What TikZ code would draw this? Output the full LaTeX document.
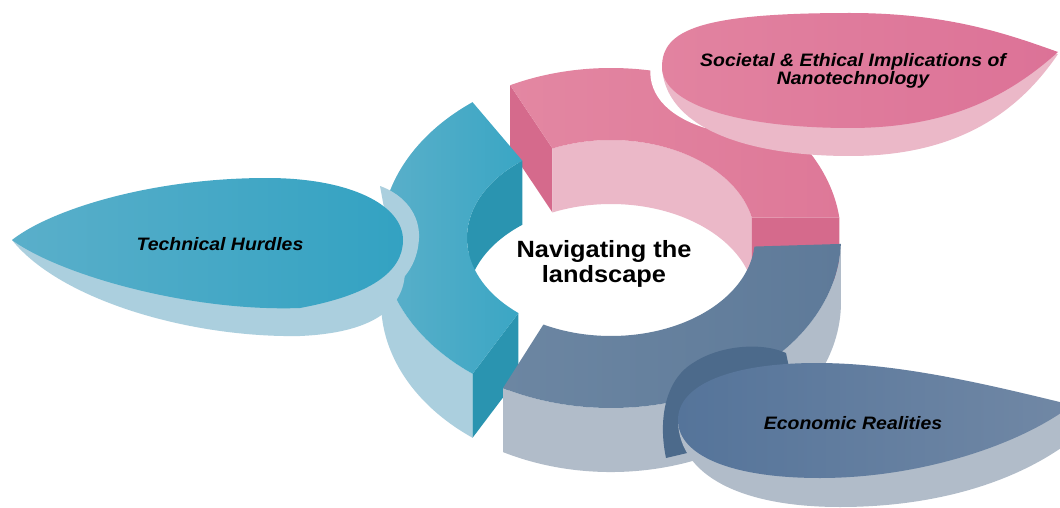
\documentclass[tikz,border=0pt]{standalone}
\usepackage{fontspec}
\setmainfont{Liberation Sans}
\newfontfamily\labfont[FakeStretch=1.08]{Liberation Sans}
\definecolor{pinktop}{HTML}{DE7898}
\definecolor{pinktopL}{HTML}{E387A2}
\definecolor{pinkdark}{HTML}{D56A8C}
\definecolor{pinklight}{HTML}{EBB8C8}
\definecolor{tealL}{HTML}{5CB0CA}
\definecolor{tealR}{HTML}{3AA6C4}
\definecolor{tealdark}{HTML}{2A94B0}
\definecolor{teallight}{HTML}{ABCFDE}
\definecolor{slateL}{HTML}{6C86A2}
\definecolor{slateR}{HTML}{5E7A99}
\definecolor{slatedark}{HTML}{4C6A8B}
\definecolor{slatelight}{HTML}{B1BCC9}
\definecolor{leafpinkL}{HTML}{E283A0}
\definecolor{leafpinkR}{HTML}{DC7297}
\definecolor{leaftealL}{HTML}{5AAFCA}
\definecolor{leaftealR}{HTML}{33A2C2}
\definecolor{leafslateL}{HTML}{55749A}
\definecolor{leafslateR}{HTML}{7188A5}
\tikzset{
  outerarc/.style={x radius=230,y radius=170},
  innerarc/.style={x radius=144,y radius=98},
  centertext/.style={align=center,font=\labfont\fontsize{23.5}{25}\selectfont\bfseries,text=black},
  leaftext/.style={align=center,font=\labfont\fontsize{18}{18.5}\selectfont\bfseries\itshape,text=black}
}
\begin{document}
\begin{tikzpicture}[x=1pt,y=-1pt]
\useasboundingbox (0,0) rectangle (1060,508);
\clip (0,0) rectangle (1060,508);
\fill[white] (0,0) rectangle (1060,508);

\begin{scope}[shift={(611,238)}]
% ---- pink segment ----
\fill[pinkdark] (244:230 and 170) -- (246:144 and 98) -- ++(0,64) -- ([shift={(0,64)}]244:230 and 170) -- cycle;
\fill[pinklight] (246:144 and 98) arc[start angle=246,end angle=348,innerarc] -- ++(0,64) arc[start angle=348,end angle=246,innerarc] -- cycle;
\fill[pinkdark] (353:230 and 170) -- (348:144 and 98) -- ++(0,64) -- ([shift={(0,64)}]353:230 and 170) -- cycle;
\shade[left color=pinktopL,right color=pinktop] (244:230 and 170) arc[start angle=244,end angle=353,outerarc] -- (348:144 and 98) arc[start angle=348,end angle=246,innerarc] -- cycle;
% ---- teal segment ----
\fill[teallight] (127:230 and 170) arc[start angle=127,end angle=233,outerarc] -- ++(0,64) arc[start angle=233,end angle=127,outerarc] -- cycle;
\fill[tealdark] (232:144 and 98) arc[start angle=232,end angle=172,innerarc] -- ++(0,64) arc[start angle=172,end angle=232,innerarc] -- cycle;
\fill[tealdark] (127:230 and 170) -- (130:144 and 98) -- ++(0,64) -- ([shift={(0,64)}]127:230 and 170) -- cycle;
\shade[left color=tealL,right color=tealR] (127:230 and 170) arc[start angle=127,end angle=233,outerarc] -- (232:144 and 98) arc[start angle=232,end angle=130,innerarc] -- cycle;
% ---- slate segment ----
\fill[slatelight] (2:230 and 170) arc[start angle=2,end angle=118,outerarc] -- ++(0,64) arc[start angle=118,end angle=2,outerarc] -- cycle;
\shade[left color=slateL,right color=slateR] (2:230 and 170) arc[start angle=2,end angle=118,outerarc] -- (118:144 and 98) arc[start angle=118,end angle=5,innerarc] -- cycle;
\end{scope}

% notch of the slate segment
\fill[slatedark] (666,458) .. controls (658,420) and (665,380) .. (693,363) .. controls (720,345) and (762,342) .. (786,353) -- (800,420) -- (700,450) -- cycle;
% white rim of the pink leaf
\fill[white] (651,62) .. controls (646,92) and (665,115) .. (705,128) -- (720,100) -- (690,60) -- cycle;
% light rim of the teal leaf
\fill[teallight] (380,186) .. controls (405,195) and (420,215) .. (419,238) .. controls (418,260) and (408,275) .. (396,285) -- (390,240) -- cycle;

% ---- teal leaf ----
\fill[teallight] (12,240) .. controls (60,300) and (190,338) .. (300,336) .. controls (370,333) and (405,310) .. (405,270) -- (390,240) -- cycle;
\shade[left color=leaftealL,right color=leaftealR] (12,240) .. controls (50,210) and (150,178) .. (267,178) .. controls (350,178) and (403,205) .. (403,240) .. controls (403,272) and (370,295) .. (300,308) .. controls (190,312) and (60,275) .. (12,240) -- cycle;

% ---- pink leaf ----
\fill[pinklight] (662,67) .. controls (665,125) and (740,156) .. (850,156) .. controls (960,156) and (1020,110) .. (1058,54) -- cycle;
\shade[left color=leafpinkL,right color=leafpinkR] (662,67) .. controls (662,30) and (700,13) .. (850,13) .. controls (950,13) and (1010,35) .. (1058,52) .. controls (1010,95) and (950,128) .. (850,128) .. controls (740,128) and (662,105) .. (662,67) -- cycle;

% ---- slate leaf ----
\fill[slatelight] (678,422) .. controls (680,475) and (740,507) .. (840,507) .. controls (940,507) and (1020,480) .. (1072,440) -- (1072,405) -- cycle;
\shade[left color=leafslateL,right color=leafslateR] (678,420) .. controls (678,385) and (730,363) .. (817,363) .. controls (900,363) and (990,385) .. (1072,405) .. controls (1020,445) and (920,478) .. (820,478) .. controls (730,478) and (678,455) .. (678,420) -- cycle;

% ---- texts ----
\node[centertext] (hub) at (604,264) {Navigating the\\landscape};
\node[leaftext] (tech) at (220,244) {Technical Hurdles};
\node[leaftext] (soc) at (853,71) {Societal \& Ethical Implications of\\Nanotechnology};
\node[leaftext] (econ) at (853,423) {Economic Realities};
\end{tikzpicture}
\end{document}
